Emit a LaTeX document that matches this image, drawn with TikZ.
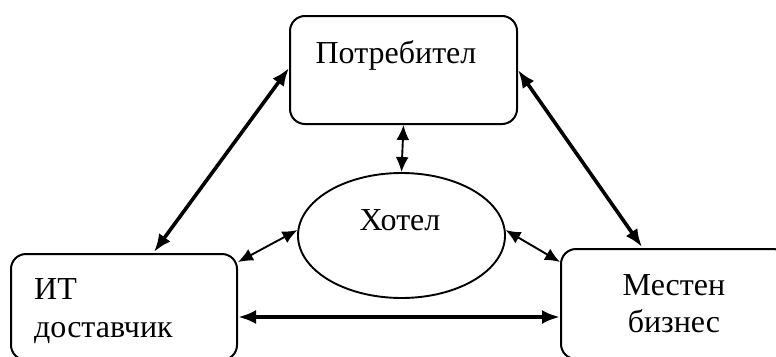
\documentclass[tikz,border=0pt]{standalone}
\usepackage{fontspec}
\setmainfont{Liberation Serif}
\usetikzlibrary{arrows.meta,shapes.geometric,calc}
\begin{document}
\begin{tikzpicture}[x=1pt,y=-1pt,
  box/.style={draw,line width=2pt,rounded corners=15pt,inner sep=0pt},
  lbl/.style={font=\fontsize{32}{38}\selectfont,inner sep=0pt,anchor=base},
  bigarr/.style={line width=3.6pt,{Latex[length=18pt,width=14pt]}-{Latex[length=18pt,width=14pt]}},
  smallarr/.style={line width=1.9pt,{Latex[length=15pt,width=13pt]}-{Latex[length=15pt,width=13pt]}}]
\clip (0,0) rectangle (776,356);
\useasboundingbox (0,0) rectangle (776,356);
% boxes
\node[box,minimum width=227pt,minimum height=108pt] (top) at (403.5,70) {};
\node[box,minimum width=226pt,minimum height=106pt] (left) at (124,307) {};
\node[box,minimum width=227pt,minimum height=110pt] (right) at (674.5,304) {};
\node[draw,ellipse,line width=1.9pt,inner sep=0pt,minimum width=207pt,minimum height=125pt] (hotel) at (401.5,235.5) {};
% texts
\node[lbl] (ttop) at (396,63) {Потребител};
\node[lbl,anchor=base west] (tl1) at (34,299) {ИТ};
\node[lbl,anchor=base west] (tl2) at (34,337) {доставчик};
\node[lbl] (tr1) at (674,295) {Местен};
\node[lbl] (tr2) at (674,332) {бизнес};
\node[lbl] (th) at (400,230) {Хотел};
% connector end points on box borders
\coordinate (la) at ($(left.north west)+(144,-1)$);
\coordinate (ta) at ($(top.north west)+(0,53)$);
\coordinate (tb) at ($(top.north east)+(0,55)$);
\coordinate (ra) at ($(right.north west)+(82,-1)$);
\coordinate (lb) at ($(left.north east)+(0,9)$);
\coordinate (rb) at ($(right.north west)+(0,14)$);
\coordinate (lc) at ($(left.north east)+(0,64)$);
\coordinate (rc) at ($(right.north west)+(0,69)$);
% connectors
\draw[bigarr] (la) -- (ta);
\draw[bigarr] (tb) -- (ra);
\draw[bigarr] (lc) -- (rc);
\draw[smallarr] (top.south) -- (hotel.north);
\draw[smallarr] (hotel.177) -- (lb);
\draw[smallarr] (hotel.3) -- (rb);
\end{tikzpicture}
\end{document}
